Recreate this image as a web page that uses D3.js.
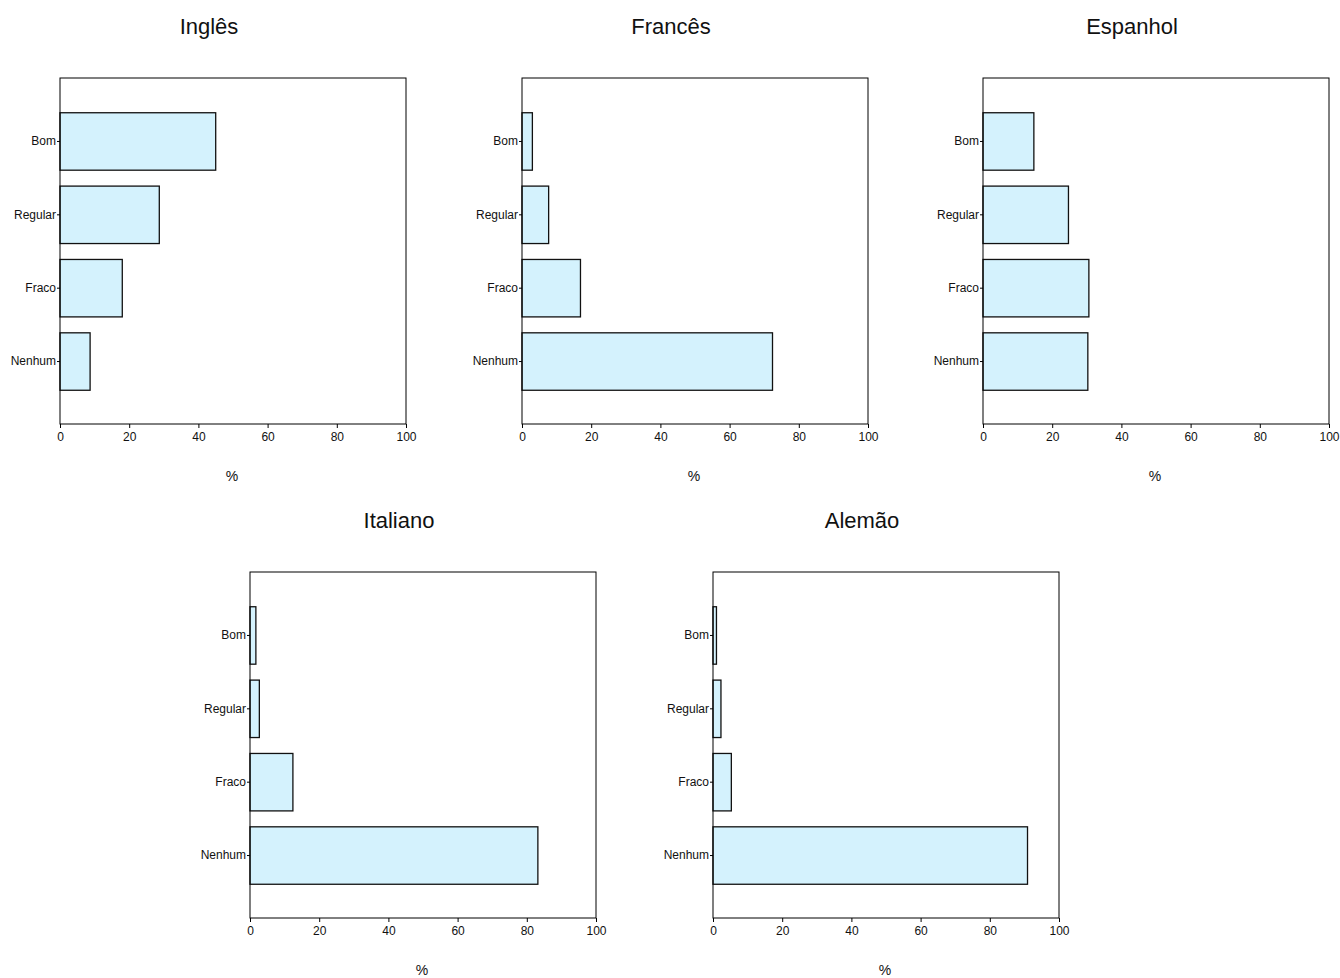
<!DOCTYPE html>
<html><head><meta charset="utf-8">
<script src="https://cdn.jsdelivr.net/npm/d3@7"></script>
<style>body{margin:0;background:#fff}svg{display:block}text{font-family:"Liberation Sans",Arial,sans-serif;fill:#111}</style>
</head><body><svg id="c" width="1340" height="978"></svg>
<script>
const categories = ["Bom","Regular","Fraco","Nenhum"];
const languages = ["Inglês","Francês","Espanhol","Italiano","Alemão"];
const ingles   = [45.0, 28.7, 18.0, 8.7];
const frances  = [3.0, 7.7, 16.9, 72.4];
const espanhol = [14.7, 24.7, 30.6, 30.3];
const italiano = [1.7, 2.7, 12.4, 83.2];
const alemao   = [1.0, 2.3, 5.3, 90.9];
const xTicks = [0,20,40,60,80,100];
const axisLabel = "%";

const seriesList = [ingles, frances, espanhol, italiano, alemao];
const layout = [
  {x:60, y:78}, {x:522, y:78}, {x:983, y:78},
  {x:250, y:572}, {x:713, y:572}
];
const W = 346, H = 346;
const svg = d3.select("#c");

languages.forEach((lang, i) => {
  const L = layout[i];
  const g = svg.append("g").attr("transform", `translate(${L.x},${L.y})`);
  const x = d3.scaleLinear().domain([0,100]).range([0,W]);
  const y = d3.scaleBand().domain(categories).range([1,H]).paddingInner(0.217).paddingOuter(0.46);
  const vals = seriesList[i];
  g.selectAll("rect.bar").data(categories).enter().append("rect")
    .attr("class","bar")
    .attr("x", x(0))
    .attr("y", d => y(d))
    .attr("width", (d,j) => x(vals[j]) - x(0))
    .attr("height", y.bandwidth())
    .attr("fill", "#d4f2fd")
    .attr("stroke", "#111")
    .attr("stroke-width", 1.3);
  // frame
  g.append("rect").attr("x",0).attr("y",0).attr("width",W).attr("height",H)
    .attr("fill","none").attr("stroke","#000").attr("stroke-width",1);
  // x axis
  const xa = g.append("g").attr("transform",`translate(0,${H})`)
    .call(d3.axisBottom(x).tickValues(xTicks).tickSize(4).tickPadding(4).tickFormat(d3.format("d")));
  xa.select(".domain").remove();
  xa.selectAll("text").style("font-size","12px");
  // y axis
  const ya = g.append("g")
    .call(d3.axisLeft(y).tickSize(3).tickPadding(1));
  ya.select(".domain").remove();
  ya.selectAll("text").style("font-size","12px");
  // title
  g.append("text").attr("x", W/2 - 24).attr("y", -44).attr("text-anchor","middle")
    .style("font-size","22px").text(lang);
  // axis label
  g.append("text").attr("x", W/2 - 1).attr("y", H + 57).attr("text-anchor","middle")
    .style("font-size","14px").text(axisLabel);
});
</script></body></html>
